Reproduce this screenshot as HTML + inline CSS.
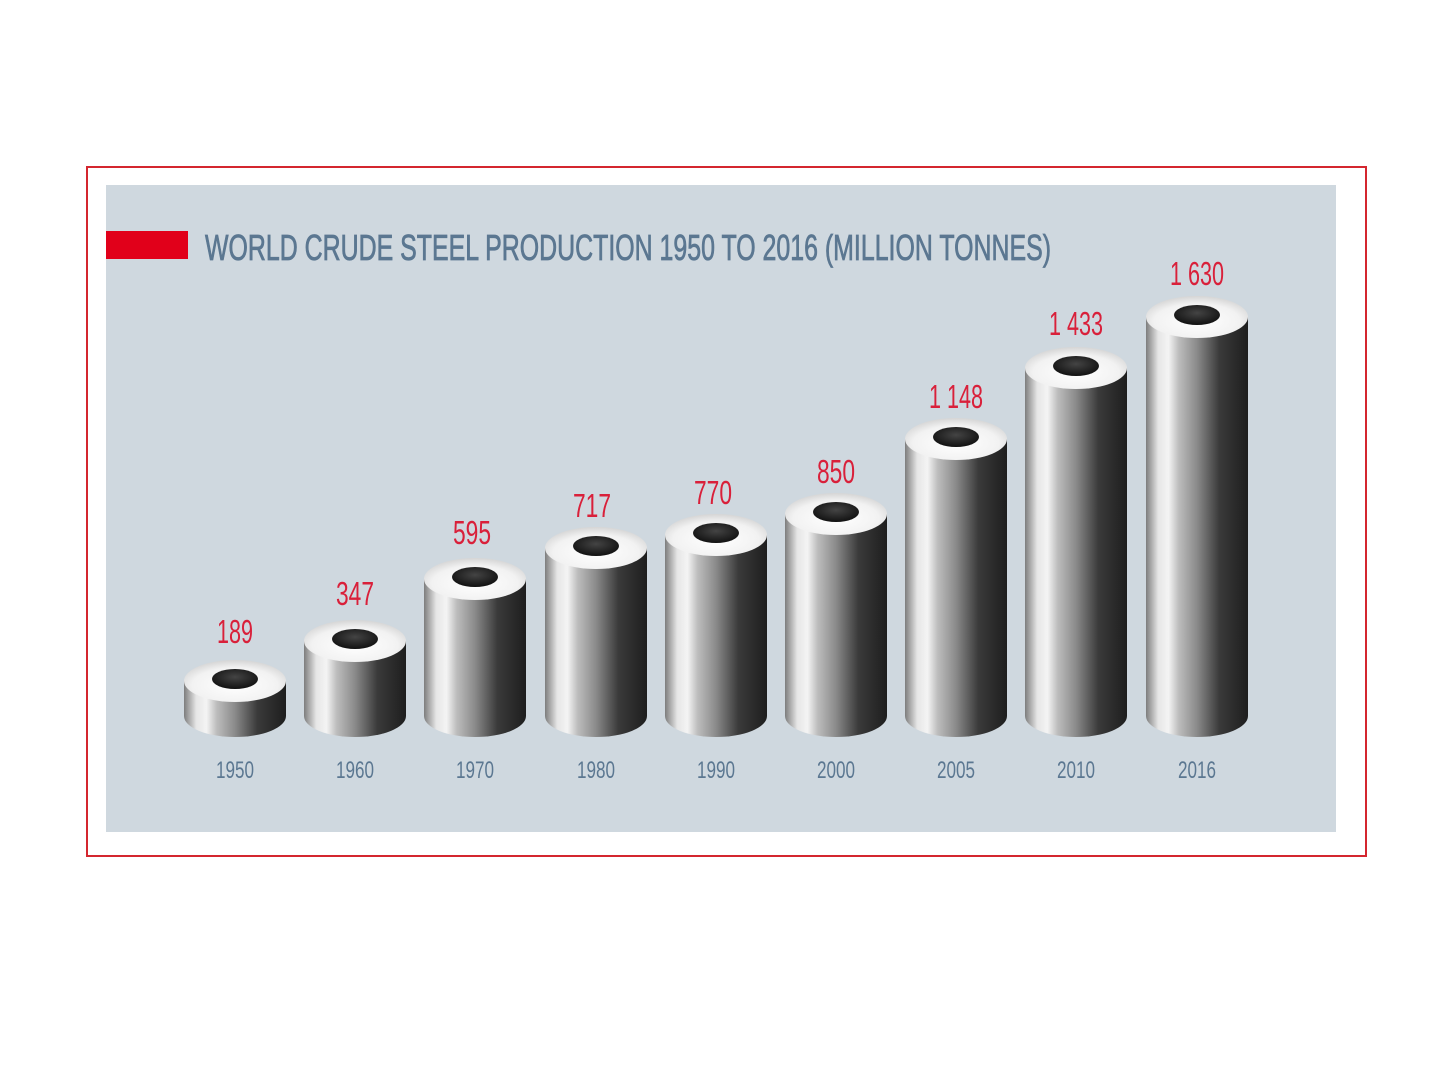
<!DOCTYPE html>
<html><head><meta charset="utf-8"><style>
body{margin:0;background:#fff;}
svg{display:block}
</style></head><body>
<svg width="1440" height="1080" viewBox="0 0 1440 1080" xmlns="http://www.w3.org/2000/svg">
<defs>
<linearGradient id="side" x1="0" x2="1" y1="0" y2="0">
<stop offset="0" stop-color="#7d7d7d"/>
<stop offset="0.12" stop-color="#e6e6e6"/>
<stop offset="0.22" stop-color="#f4f4f4"/>
<stop offset="0.32" stop-color="#bdbdbd"/>
<stop offset="0.5" stop-color="#8a8a8a"/>
<stop offset="0.72" stop-color="#3a3a3a"/>
<stop offset="1" stop-color="#1e1e1e"/>
</linearGradient>
<radialGradient id="top" cx="0.5" cy="0.6" r="0.6">
<stop offset="0" stop-color="#ffffff"/>
<stop offset="0.7" stop-color="#f2f2f2"/>
<stop offset="1" stop-color="#d5d5d5"/>
</radialGradient>
<radialGradient id="hole" cx="0.5" cy="0.4" r="0.6">
<stop offset="0" stop-color="#444"/>
<stop offset="1" stop-color="#111"/>
</radialGradient>
</defs>
<rect x="87" y="167" width="1279" height="689" fill="#fff" stroke="#d4262f" stroke-width="2"/>
<rect x="106" y="185" width="1230" height="647" fill="#cfd8df"/>
<rect x="106" y="231" width="82" height="28" fill="#e1001a"/>
<text x="205" y="260" font-family="'Liberation Sans',sans-serif" font-size="36" fill="#5b7791" stroke="#5b7791" stroke-width="0.8" textLength="846" lengthAdjust="spacingAndGlyphs">WORLD CRUDE STEEL PRODUCTION 1950 TO 2016 (MILLION TONNES)</text>
<g font-family="'Liberation Sans',sans-serif" text-anchor="middle">

<g transform="translate(235,0)"><path d="M-51 681 L-51 716 A51 21 0 0 0 51 716 L51 681 Z" fill="url(#side)"/><ellipse cx="0" cy="681" rx="51" ry="21" fill="url(#top)"/><ellipse cx="0" cy="679" rx="23" ry="10" fill="url(#hole)"/><text x="0" y="643" font-size="33" fill="#d9203a" textLength="36" lengthAdjust="spacingAndGlyphs">189</text><text x="0" y="778" font-size="24" fill="#5b7791" textLength="38" lengthAdjust="spacingAndGlyphs">1950</text></g>

<g transform="translate(355,0)"><path d="M-51 641 L-51 716 A51 21 0 0 0 51 716 L51 641 Z" fill="url(#side)"/><ellipse cx="0" cy="641" rx="51" ry="21" fill="url(#top)"/><ellipse cx="0" cy="639" rx="23" ry="10" fill="url(#hole)"/><text x="0" y="605" font-size="33" fill="#d9203a" textLength="38" lengthAdjust="spacingAndGlyphs">347</text><text x="0" y="778" font-size="24" fill="#5b7791" textLength="38" lengthAdjust="spacingAndGlyphs">1960</text></g>

<g transform="translate(475,0)"><path d="M-51 579 L-51 716 A51 21 0 0 0 51 716 L51 579 Z" fill="url(#side)"/><ellipse cx="0" cy="579" rx="51" ry="21" fill="url(#top)"/><ellipse cx="0" cy="577" rx="23" ry="10" fill="url(#hole)"/><text x="-3" y="544" font-size="33" fill="#d9203a" textLength="38" lengthAdjust="spacingAndGlyphs">595</text><text x="0" y="778" font-size="24" fill="#5b7791" textLength="38" lengthAdjust="spacingAndGlyphs">1970</text></g>

<g transform="translate(596,0)"><path d="M-51 548 L-51 716 A51 21 0 0 0 51 716 L51 548 Z" fill="url(#side)"/><ellipse cx="0" cy="548" rx="51" ry="21" fill="url(#top)"/><ellipse cx="0" cy="546" rx="23" ry="10" fill="url(#hole)"/><text x="-4" y="517" font-size="33" fill="#d9203a" textLength="38" lengthAdjust="spacingAndGlyphs">717</text><text x="0" y="778" font-size="24" fill="#5b7791" textLength="38" lengthAdjust="spacingAndGlyphs">1980</text></g>

<g transform="translate(716,0)"><path d="M-51 535 L-51 716 A51 21 0 0 0 51 716 L51 535 Z" fill="url(#side)"/><ellipse cx="0" cy="535" rx="51" ry="21" fill="url(#top)"/><ellipse cx="0" cy="533" rx="23" ry="10" fill="url(#hole)"/><text x="-3" y="504" font-size="33" fill="#d9203a" textLength="38" lengthAdjust="spacingAndGlyphs">770</text><text x="0" y="778" font-size="24" fill="#5b7791" textLength="38" lengthAdjust="spacingAndGlyphs">1990</text></g>

<g transform="translate(836,0)"><path d="M-51 514 L-51 716 A51 21 0 0 0 51 716 L51 514 Z" fill="url(#side)"/><ellipse cx="0" cy="514" rx="51" ry="21" fill="url(#top)"/><ellipse cx="0" cy="512" rx="23" ry="10" fill="url(#hole)"/><text x="0" y="483" font-size="33" fill="#d9203a" textLength="38" lengthAdjust="spacingAndGlyphs">850</text><text x="0" y="778" font-size="24" fill="#5b7791" textLength="38" lengthAdjust="spacingAndGlyphs">2000</text></g>

<g transform="translate(956,0)"><path d="M-51 439 L-51 716 A51 21 0 0 0 51 716 L51 439 Z" fill="url(#side)"/><ellipse cx="0" cy="439" rx="51" ry="21" fill="url(#top)"/><ellipse cx="0" cy="437" rx="23" ry="10" fill="url(#hole)"/><text x="0" y="408" font-size="33" fill="#d9203a" textLength="54" lengthAdjust="spacingAndGlyphs">1 148</text><text x="0" y="778" font-size="24" fill="#5b7791" textLength="38" lengthAdjust="spacingAndGlyphs">2005</text></g>

<g transform="translate(1076,0)"><path d="M-51 368 L-51 716 A51 21 0 0 0 51 716 L51 368 Z" fill="url(#side)"/><ellipse cx="0" cy="368" rx="51" ry="21" fill="url(#top)"/><ellipse cx="0" cy="366" rx="23" ry="10" fill="url(#hole)"/><text x="0" y="335" font-size="33" fill="#d9203a" textLength="54" lengthAdjust="spacingAndGlyphs">1 433</text><text x="0" y="778" font-size="24" fill="#5b7791" textLength="38" lengthAdjust="spacingAndGlyphs">2010</text></g>

<g transform="translate(1197,0)"><path d="M-51 317 L-51 716 A51 21 0 0 0 51 716 L51 317 Z" fill="url(#side)"/><ellipse cx="0" cy="317" rx="51" ry="21" fill="url(#top)"/><ellipse cx="0" cy="315" rx="23" ry="10" fill="url(#hole)"/><text x="0" y="285" font-size="33" fill="#d9203a" textLength="54" lengthAdjust="spacingAndGlyphs">1 630</text><text x="0" y="778" font-size="24" fill="#5b7791" textLength="38" lengthAdjust="spacingAndGlyphs">2016</text></g>

</g>
</svg>
</body></html>
